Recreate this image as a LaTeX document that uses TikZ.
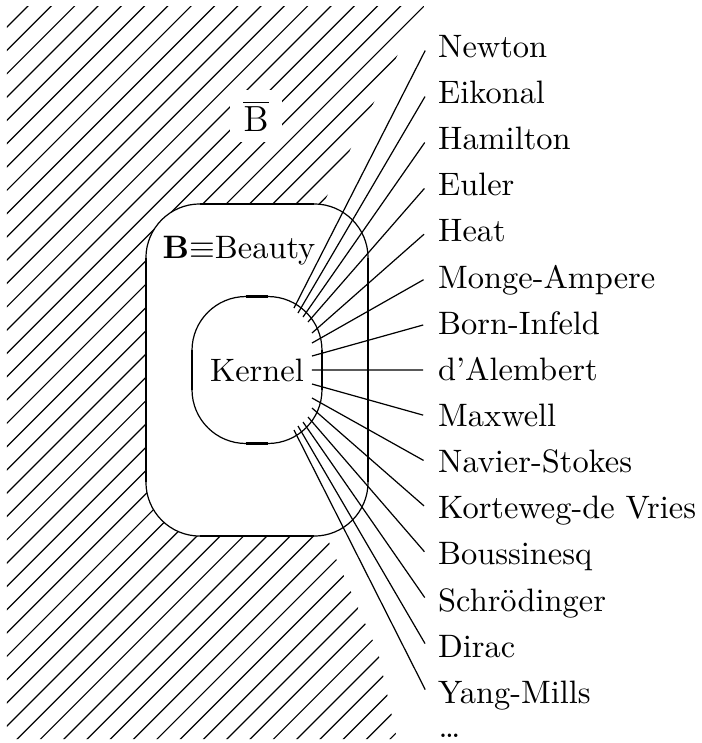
\documentclass[tikz,border=0pt]{standalone}
\usepackage{tikz}
\usetikzlibrary{positioning, calc}
\tikzset{
    hatch/.style={line width=0.4pt},
    region/.style={draw, line width=0.4pt, fill=white, rounded corners=17.8pt,
                   inner sep=0pt, outer sep=0pt},
    side/.style={line width=0.9pt},
    eqlabel/.style={anchor=west, inner sep=3.5pt, text height=0.68em, text depth=0pt},
    ray/.style={line width=0.4pt, shorten >=1.3pt}
}

\begin{document}
\begin{tikzpicture}[x=0.33pt, y=-0.33pt, font=\fontsize{10.7}{13}\selectfont]
    \useasboundingbox (0,0) rectangle (702,743);

    % hatched outside of B
    \begin{scope}
        \clip (7,6) -- (424,6) -- (424,18) -- (414,22) -- (290,270) -- (300,440)
              -- (330,545) -- (378,652) -- (397,739) -- (7,739) -- cycle;
        \foreach \c in {34,57.3,...,1180}
            \draw[hatch] (\c,0) -- ++(-760,760);
    \end{scope}
    \node[fill=white, minimum size=17pt, inner sep=0pt, font=\fontsize{13}{15}\selectfont]
        (bbar) at (256,116) {$\overline{\mathrm{B}}$};

    \node[region, minimum width=73.3pt, minimum height=109.6pt] (beauty) at (257,370) {};
    \node[region, minimum width=42.9pt, minimum height=48.5pt] (kernel) at (257,370) {Kernel};
    \foreach \n in {beauty, kernel} {
        \draw[side] ([xshift=17.8pt]\n.north west) -- ([xshift=-17.8pt]\n.north east);
        \draw[side] ([xshift=17.8pt]\n.south west) -- ([xshift=-17.8pt]\n.south east);
        \draw[side] ([yshift=-17.8pt]\n.north west) -- ([yshift=17.8pt]\n.south west);
        \draw[side] ([yshift=-17.8pt]\n.north east) -- ([yshift=17.8pt]\n.south east);
    }
    \node[anchor=west, inner sep=0pt] (blabel) at (162,251) {\textbf{B}$\equiv$Beauty};

    % rays out of the kernel
    \foreach \x/\y [count=\i] in {294/308, 298/313, 303/317, 308/322, 312/333,
                                  312/343, 312/356, 312/370, 312/384, 312/398,
                                  312/408, 308/417, 303/422, 298/426, 294/430}
        \coordinate (k\i) at (\x,\y);

    \foreach \eqn [count=\i] in {Newton, Eikonal, Hamilton, Euler, Heat, Monge-Ampere,
                                 Born-Infeld, d'Alembert, Maxwell, Navier-Stokes,
                                 Korteweg-de Vries, Boussinesq, Schr\"odinger, Dirac, Yang-Mills} {
        \node[eqlabel] (eq\i) at (427,{47+46.15*(\i-1)}) {\eqn};
        \draw[ray] (k\i) -- (eq\i.west);
    }
    \node[anchor=base west, inner sep=0pt] (more) at (438,737) {\dots};
\end{tikzpicture}
\end{document}
